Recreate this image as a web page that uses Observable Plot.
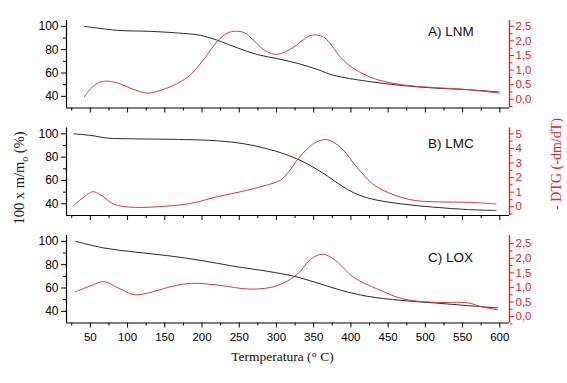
<!DOCTYPE html>
<html><head><meta charset="utf-8">
<script src="https://cdn.jsdelivr.net/npm/d3@7"></script>
<script src="https://cdn.jsdelivr.net/npm/@observablehq/plot@0.6"></script>
<style>
body{margin:0;background:#fff}
#chart{position:relative;width:567px;height:383px;overflow:hidden;background:#fff}
#chart svg{position:absolute;left:0;top:0}
</style></head><body><div id="chart"></div>
<script>
// ---- data ----
const lnmMassT = [42, 86, 131, 167, 198, 221, 248, 275, 301, 330, 355, 377, 422, 467, 512, 557, 599];
const lnmMass  = [100, 96.6, 95.7, 94.3, 92.3, 88, 81.4, 75.7, 72.3, 68, 63, 58, 52.9, 49.4, 47.1, 45.7, 43.7];
const lnmDtgT  = [42, 50, 60, 70, 86, 109, 127, 145, 167, 185, 203, 221, 235, 245, 257, 270, 282, 295, 305, 319, 333, 345, 355, 364, 375, 386, 404, 431, 458, 485, 512, 557, 599];
const lnmDtg   = [0.08, 0.35, 0.55, 0.62, 0.56, 0.33, 0.21, 0.31, 0.54, 0.85, 1.39, 2.0, 2.28, 2.33, 2.28, 2.0, 1.72, 1.55, 1.56, 1.72, 1.98, 2.18, 2.2, 2.12, 1.82, 1.44, 1.05, 0.71, 0.54, 0.45, 0.40, 0.33, 0.21];

const lmcMassT = [28, 51, 73, 109, 176, 221, 257, 288, 310, 337, 364, 387, 404, 427, 467, 512, 557, 595];
const lmcMass  = [100, 98.6, 96.3, 95.7, 95.1, 94, 91.4, 87.1, 82.9, 75.7, 65.7, 55.7, 49.4, 44.3, 40, 37.1, 35.1, 34.3];
const lmcDtgT  = [28, 42, 53, 64, 82, 109, 154, 185, 221, 252, 283, 306, 318, 328, 340, 351, 360, 369, 387, 409, 431, 458, 485, 512, 561, 595];
const lmcDtg   = [0.12, 0.69, 1.03, 0.81, 0.17, -0.04, 0.05, 0.23, 0.69, 1.03, 1.43, 1.84, 2.5, 3.22, 3.9, 4.37, 4.55, 4.6, 4.03, 2.65, 1.5, 0.81, 0.44, 0.34, 0.3, 0.19];

const loxMassT = [30, 68, 109, 154, 198, 243, 288, 324, 355, 387, 422, 467, 512, 557, 597];
const loxMass  = [100, 94.3, 90.9, 87.7, 83.7, 78.6, 74.3, 70, 64.3, 58, 52.9, 49.4, 47.2, 44.9, 42.9];
const loxDtgT  = [30, 51, 68, 86, 109, 131, 154, 185, 221, 266, 301, 328, 346, 362, 377, 404, 436, 471, 512, 557, 575, 597];
const loxDtg   = [0.85, 1.06, 1.2, 1.0, 0.75, 0.83, 1.0, 1.14, 1.08, 0.94, 1.06, 1.45, 1.97, 2.14, 1.97, 1.34, 0.94, 0.6, 0.49, 0.47, 0.34, 0.23];

const panelLabels = ["A) LNM", "B) LMC", "C) LOX"];
const xTicks = [50, 100, 150, 200, 250, 300, 350, 400, 450, 500, 550, 600];
const xMinorTicks = [25, 75, 125, 175, 225, 275, 325, 375, 425, 475, 525, 575];
const massTicks = [40, 60, 80, 100];
const massMinorTicks = [50, 70, 90];
const dtgTicksSmall = [0, 0.5, 1.0, 1.5, 2.0, 2.5];
const dtgMinorSmall = [-0.25, 0.25, 0.75, 1.25, 1.75, 2.25];
const dtgTicksBig = [0, 1, 2, 3, 4, 5];
const dtgMinorBig = [-0.5, 0.5, 1.5, 2.5, 3.5, 4.5];
const xTitle = "Termperatura (° C)";

// ---- layout ----
const W = 567, H = 383;
const ML = 66, MR = 58;
const panelTops = [20, 127.5, 235];
const panelH = 87.5;
const xDomain = [18, 613];
const massDomain = [30, 105];
const BLACK = "#000";
const RED = "#e3222b";
const LINE_BLACK = "#2a2a2a";
const LINE_RED = "#db3b3b";
const commaFmt = d => d.toFixed(1).replace(".", ",");

const panels = [
  {mT: lnmMassT, m: lnmMass, dT: lnmDtgT, d: lnmDtg, dDomain: [-0.3, 2.7], dTicks: dtgTicksSmall, dMinor: dtgMinorSmall, fmt: commaFmt},
  {mT: lmcMassT, m: lmcMass, dT: lmcDtgT, d: lmcDtg, dDomain: [-0.6, 5.4], dTicks: dtgTicksBig, dMinor: dtgMinorBig, fmt: d => String(d)},
  {mT: loxMassT, m: loxMass, dT: loxDtgT, d: loxDtg, dDomain: [-0.22, 2.78], dTicks: dtgTicksSmall, dMinor: dtgMinorSmall, fmt: commaFmt}
];

const chart = document.getElementById("chart");

panels.forEach((p, i) => {
  const top = panelTops[i];
  const bottom = H - (top + panelH);
  const last = i === panels.length - 1;
  const massData = p.mT.map((t, k) => ({t, v: p.m[k]}));
  const dtgData = p.dT.map((t, k) => ({t, v: p.d[k]}));

  const massPlot = Plot.plot({
    width: W, height: H,
    marginTop: top, marginBottom: bottom, marginLeft: ML, marginRight: MR,
    style: {background: "transparent", color: BLACK, fontFamily: "'Liberation Sans', Arial, sans-serif", overflow: "visible"},
    x: {domain: xDomain, label: null},
    y: {domain: massDomain, label: null},
    marks: [
      Plot.ruleY([massDomain[0]], {stroke: BLACK, strokeWidth: 1.2}),
      Plot.ruleX([xDomain[0]], {stroke: BLACK, strokeWidth: 1.2}),
      Plot.axisX(xTicks, {tickSize: 5, tickPadding: 5, fontSize: 11.5, label: null,
        tickFormat: last ? (d => String(d)) : (() => "")}),
      Plot.axisX(xMinorTicks, {tickSize: 3, tickFormat: () => "", label: null}),
      Plot.axisY(massTicks, {tickSize: 5, tickPadding: 3, fontSize: 12, label: null}),
      Plot.axisY(massMinorTicks, {tickSize: 3, tickFormat: () => "", label: null}),
      Plot.line(massData, {x: "t", y: "v", stroke: LINE_BLACK, strokeWidth: 1, curve: "catmull-rom"})
    ]
  });
  chart.appendChild(massPlot);

  const dtgPlot = Plot.plot({
    width: W, height: H,
    marginTop: top, marginBottom: bottom, marginLeft: ML, marginRight: MR,
    style: {background: "transparent", color: RED, fontFamily: "'Liberation Sans', Arial, sans-serif", overflow: "visible"},
    x: {domain: xDomain, axis: null, label: null},
    y: {domain: p.dDomain, label: null},
    marks: [
      Plot.ruleX([xDomain[1]], {stroke: RED, strokeWidth: 1.4}),
      Plot.axisY(p.dTicks, {anchor: "right", tickSize: 4, tickPadding: 2, fontSize: 11.5, tickFormat: p.fmt, label: null}),
      Plot.axisY(p.dMinor, {anchor: "right", tickSize: 2.5, tickFormat: () => "", label: null}),
      Plot.line(dtgData, {x: "t", y: "v", stroke: LINE_RED, strokeWidth: 1, curve: "catmull-rom"})
    ]
  });
  chart.appendChild(dtgPlot);
});

// ---- titles / annotations ----
const svg = d3.select(chart).append("svg").attr("width", W).attr("height", H)
  .style("pointer-events", "none");
const labelY = [36.2, 148.2, 261.5];
panelLabels.forEach((s, i) => {
  svg.append("text").attr("x", 428).attr("y", labelY[i])
    .attr("font-family", "'Liberation Sans', Arial, sans-serif").attr("font-size", 13.5)
    .attr("fill", "#111").text(s);
});
svg.append("text").attr("x", 282.5).attr("y", 361)
  .attr("text-anchor", "middle").attr("font-family", "'Liberation Serif', 'Times New Roman', serif")
  .attr("font-size", 13.5).attr("fill", "#111").text(xTitle);

const yl = svg.append("text").attr("transform", "translate(24,178) rotate(-90)")
  .attr("text-anchor", "middle").attr("font-family", "'Liberation Serif', 'Times New Roman', serif")
  .attr("font-size", 14.5).attr("fill", "#111");
yl.append("tspan").text("100 x m/m");
yl.append("tspan").attr("font-size", 10).attr("dy", 4).text("o");
yl.append("tspan").attr("dy", -4).text(" (%)");

svg.append("text").attr("transform", "translate(561,164) rotate(-90)")
  .attr("text-anchor", "middle").attr("font-family", "'Liberation Serif', 'Times New Roman', serif")
  .attr("font-size", 14).attr("fill", RED).text("- DTG (-dm/dT)");
</script>
</body></html>
